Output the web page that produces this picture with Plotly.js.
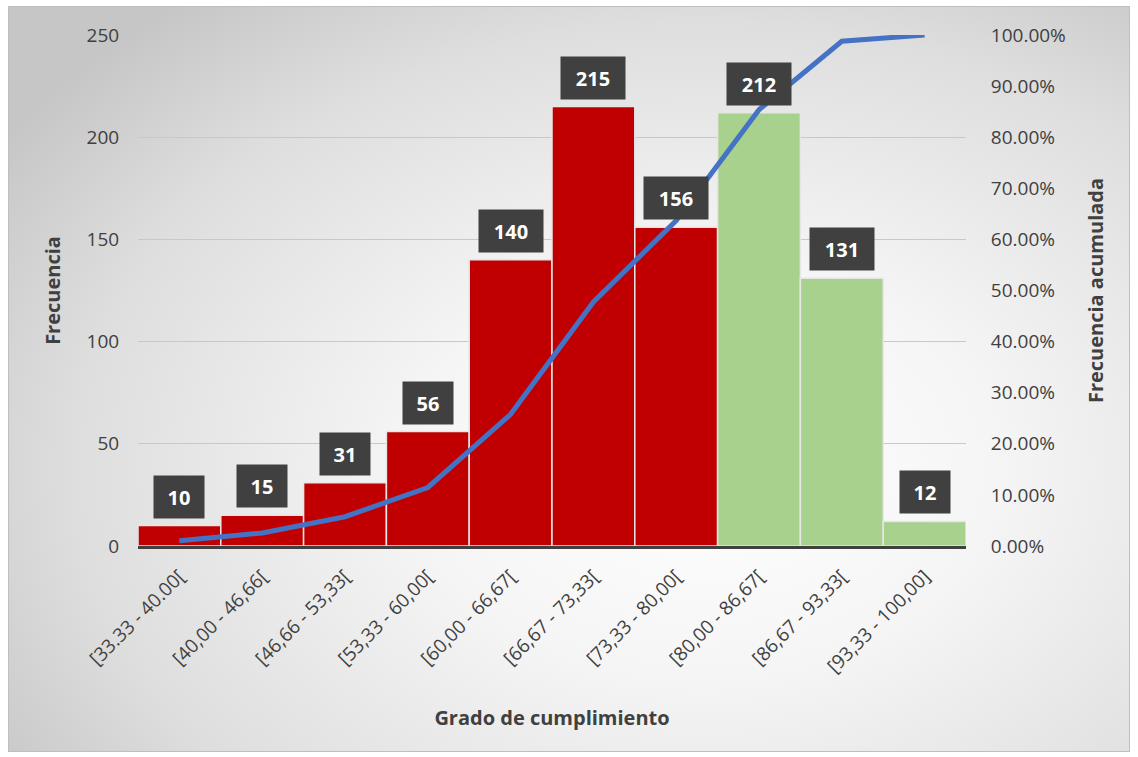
<!DOCTYPE html>
<html><head><meta charset="utf-8">
<script src="https://cdn.plot.ly/plotly-3.0.1.min.js"></script>
<style>
html,body{margin:0;padding:0;width:1138px;height:757px;overflow:hidden;background:#fff;}
#frame{position:absolute;left:8px;top:6px;width:1120px;height:744px;border:1px solid #bfbfbf;
background:radial-gradient(ellipse 75% 80% at 62% 62%, #ffffff 0%, #f5f5f5 35%, #dedede 75%, #c6c6c6 100%);}
#chart{position:absolute;left:0;top:0;width:1138px;height:757px;}
</style></head>
<body>
<div id="frame"></div>
<div id="chart"></div>
<script>
const categories = ["[33.33 - 40.00[","[40,00 - 46,66[","[46,66 - 53,33[","[53,33 - 60,00[","[60,00 - 66,67[","[66,67 - 73,33[","[73,33 - 80,00[","[80,00 - 86,67[","[86,67 - 93,33[","[93,33 - 100,00]"];
const frequencies = [10, 15, 31, 56, 140, 215, 156, 212, 131, 12];
const cumulative = [0.0102, 0.0256, 0.0573, 0.1145, 0.2577, 0.4775, 0.6370, 0.8538, 0.9877, 1.0];
const barColors = ["#C00000","#C00000","#C00000","#C00000","#C00000","#C00000","#C00000","#A9D18E","#A9D18E","#A9D18E"];

const font = "Open Sans, sans-serif";
const traces = [
  {type:"bar", x:categories, y:frequencies, marker:{color:barColors, line:{color:"#e6e6e6", width:1.5}}, hoverinfo:"x+y", yaxis:"y"},
  {type:"scatter", mode:"lines", x:categories, y:cumulative, yaxis:"y2", line:{color:"#4472C4", width:5}}
];
const annotations = categories.map((c,i)=>({
  x:c, y:frequencies[i], xref:"x", yref:"y", yanchor:"bottom", yshift:7, showarrow:false,
  text:"<b>"+frequencies[i]+"</b>", font:{family:font, size:20, color:"#ffffff"},
  bgcolor:"#404040", width:String(frequencies[i]).length*14+20, height:40
}));
const layout = {
  width:1138, height:757, paper_bgcolor:"rgba(0,0,0,0)", plot_bgcolor:"rgba(0,0,0,0)",
  margin:{l:138, r:172, t:35, b:211}, showlegend:false, bargap:0,
  font:{family:font, color:"#404040"},
  xaxis:{tickangle:-45, tickfont:{size:19, color:"#404040"}, showline:true, linecolor:"#404040", linewidth:3,
    ticks:"outside", ticklen:9, tickcolor:"rgba(0,0,0,0)",
    title:{text:"<b>Grado de cumplimiento</b>", font:{size:20, color:"#404040"}, standoff:34}},
  yaxis:{range:[0,250], dtick:50, tickfont:{size:19, color:"#404040"}, gridcolor:"#c8c8c8", gridwidth:1,
    zeroline:false, ticks:"outside", ticklen:14, tickcolor:"rgba(0,0,0,0)",
    title:{text:"<b>Frecuencia</b>", font:{size:20, color:"#404040"}, standoff:20}},
  yaxis2:{overlaying:"y", side:"right", range:[0,1], dtick:0.1, tickformat:".2%", showgrid:false, zeroline:false,
    tickfont:{size:19, color:"#404040"}, ticks:"outside", ticklen:20, tickcolor:"rgba(0,0,0,0)",
    title:{text:"<b>Frecuencia acumulada</b>", font:{size:20, color:"#404040"}, standoff:24}},
  annotations:annotations
};
Plotly.newPlot("chart", traces, layout, {displayModeBar:false, staticPlot:true});
</script>
</body></html>
